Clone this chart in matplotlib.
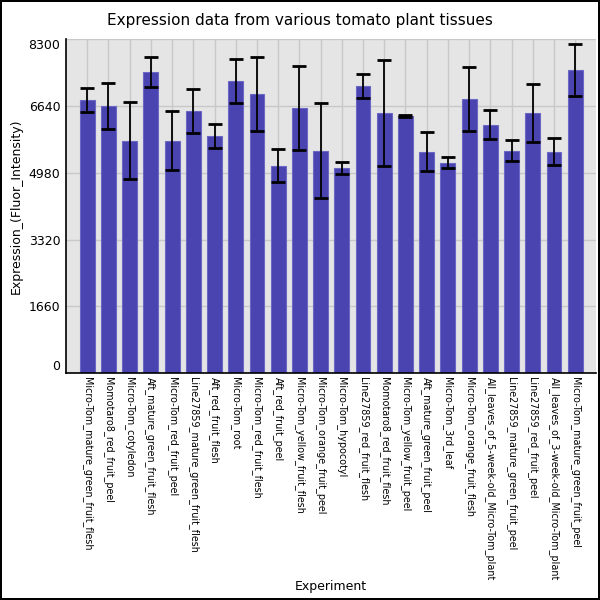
import numpy as np
import matplotlib
matplotlib.use("Agg")
import matplotlib.pyplot as plt

# Tissue names and expression values (mean, error)
tissues = [
    "Micro-Tom_mature_green_fruit_flesh",
    "Momotaro8_red_fruit_peel",
    "Micro-Tom_cotyledon",
    "Aft_mature_green_fruit_flesh",
    "Micro-Tom_red_fruit_peel",
    "Line27859_mature_green_fruit_flesh",
    "Aft_red_fruit_flesh",
    "Micro-Tom_root",
    "Micro-Tom_red_fruit_flesh",
    "Aft_red_fruit_peel",
    "Micro-Tom_yellow_fruit_flesh",
    "Micro-Tom_orange_fruit_peel",
    "Micro-Tom_hypocotyl",
    "Line27859_red_fruit_flesh",
    "Momotaro8_red_fruit_flesh",
    "Micro-Tom_yellow_fruit_peel",
    "Aft_mature_green_fruit_peel",
    "Micro-Tom_3rd_leaf",
    "Micro-Tom_orange_fruit_flesh",
    "All_leaves_of_5-week-old_Micro-Tom_plant",
    "Line27859_mature_green_fruit_peel",
    "Line27859_red_fruit_peel",
    "All_leaves_of_3-week-old_Micro-Tom_plant",
    "Micro-Tom_mature_green_fruit_peel",
]
expression = [6790, 6640, 5775, 7480, 5775, 6515, 5895, 7260, 6935, 5155,
              6590, 5525, 5105, 7135, 6465, 6390, 5500, 5230, 6815, 6170,
              5525, 6465, 5500, 7530]
errors = [300, 575, 960, 380, 740, 550, 300, 550, 920, 410,
          1050, 1180, 150, 300, 1320, 30, 480, 140, 790, 360,
          260, 720, 340, 640]
yticks = [0, 1660, 3320, 4980, 6640, 8300]

fig = plt.figure(figsize=(6, 6), dpi=100)
fig.patch.set_edgecolor("black")
fig.patch.set_linewidth(1.5)
ax = fig.add_axes([0.11, 0.378, 0.884, 0.557])
ax.set_facecolor("#e5e5e5")

x = np.arange(len(tissues))
ax.bar(x, expression, width=0.7, color="#4a44b0", edgecolor="#6b67c4",
       linewidth=0.8, zorder=2)
ax.errorbar(x, expression, yerr=errors, fmt="none", ecolor="black",
            elinewidth=1.3, capsize=5, capthick=2, zorder=3)

ax.set_xlim(-1, len(tissues))
ax.set_ylim(0, 8300)
ax.set_xticks(x)
ax.set_xticklabels(tissues, rotation=270, fontsize=6.9)
ax.set_yticks(yticks)
ax.set_yticklabels([str(t) for t in yticks], fontsize=9)
labs = ax.get_yticklabels()
labs[0].set_va("bottom")
labs[-1].set_va("top")
ax.tick_params(axis="both", length=0)
ax.tick_params(axis="y", pad=4)
ax.tick_params(axis="x", pad=3)

ax.grid(True, color="#c8c8c8", linewidth=1, zorder=0)
ax.set_axisbelow(True)
for s in ["top", "right"]:
    ax.spines[s].set_visible(False)
ax.spines["left"].set_linewidth(1.2)
ax.spines["bottom"].set_linewidth(1.2)

fig.suptitle("Expression data from various tomato plant tissues", fontsize=11, y=0.979)
ax.set_ylabel("Expression_(Fluor_Intensity)", fontsize=9)
ax.set_xlabel("Experiment", fontsize=9)
ax.xaxis.set_label_coords(0.5, -0.62)

plt.savefig("out.png", dpi=100, edgecolor=fig.get_edgecolor())
